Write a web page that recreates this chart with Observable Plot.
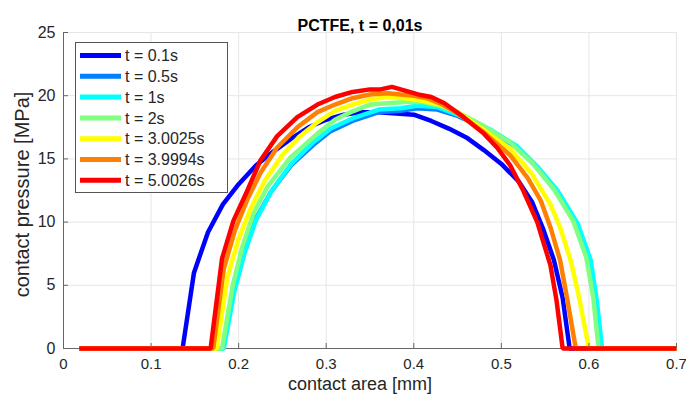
<!DOCTYPE html>
<html><head><meta charset="utf-8">
<script src="https://cdn.jsdelivr.net/npm/d3@7"></script>
<script src="https://cdn.jsdelivr.net/npm/@observablehq/plot@0.6"></script>
<style>
body{margin:0;background:#fff;}
#chart svg{display:block;}
</style></head><body><div id="chart"></div>
<script>
const titleText = "PCTFE, t = 0,01s";
const xLabel = "contact area [mm]";
const yLabel = "contact pressure [MPa]";
const seriesLabels = ["t = 0.1s","t = 0.5s","t = 1s","t = 2s","t = 3.0025s","t = 3.9994s","t = 5.0026s"];
const seriesColors = ["#0000ff","#0080ff","#00ffff","#80ff80","#ffff00","#ff8000","#ff0000"];
const xTicks = [0,0.1,0.2,0.3,0.4,0.5,0.6,0.7];
const yTicks = [0,5,10,15,20,25];

const x_t01 = [0.018,0.136,0.149,0.165,0.182,0.2,0.22,0.24,0.26,0.28,0.3,0.32,0.34,0.36,0.38,0.4,0.42,0.44,0.46,0.48,0.5,0.52,0.535,0.548,0.56,0.57,0.578,0.7];
const p_t01 = [0,0,6.0,9.2,11.4,13.0,14.5,15.6,16.6,17.5,18.1,18.5,18.7,18.7,18.6,18.5,18.0,17.4,16.7,15.7,14.6,13.2,11.6,9.4,7.0,4.0,0,0];
const x_t05 = [0.018,0.182,0.194,0.206,0.22,0.237,0.26,0.285,0.305,0.33,0.36,0.385,0.404,0.427,0.45,0.488,0.518,0.541,0.564,0.587,0.6,0.607,0.613,0.7];
const p_t05 = [0,0,4.6,7.7,10.3,12.4,14.5,16.1,17.2,18.0,18.7,18.8,19.0,18.9,18.4,17.2,15.9,14.3,12.3,9.6,7.0,3.8,0,0];
const x_t1 = [0.018,0.183,0.195,0.207,0.22,0.237,0.26,0.285,0.305,0.33,0.36,0.385,0.404,0.427,0.45,0.488,0.518,0.541,0.564,0.587,0.602,0.609,0.615,0.7];
const p_t1 = [0,0,4.5,7.6,10.2,12.4,14.6,16.3,17.4,18.2,18.9,19.0,19.2,19.1,18.5,17.3,16.0,14.4,12.5,9.9,7.0,3.8,0,0];
const x_t2 = [0.018,0.181,0.193,0.204,0.217,0.233,0.259,0.29,0.31,0.328,0.35,0.37,0.39,0.41,0.43,0.45,0.48,0.51,0.535,0.56,0.582,0.597,0.605,0.611,0.7];
const p_t2 = [0,0,4.9,8.0,10.7,12.8,15.1,17.0,18.1,18.7,19.3,19.4,19.5,19.5,19.2,18.7,17.6,16.3,14.7,12.6,10.1,7.2,4.0,0,0];
const x_t3 = [0.018,0.175,0.187,0.2,0.214,0.23,0.25,0.27,0.29,0.31,0.33,0.35,0.37,0.39,0.41,0.43,0.45,0.48,0.51,0.535,0.556,0.567,0.579,0.588,0.6,0.7];
const p_t3 = [0,0,5.6,8.7,11.1,13.3,15.3,16.8,17.9,18.8,19.3,19.7,19.9,19.8,19.6,19.3,18.7,17.3,15.8,13.8,11.4,9.6,7.0,4.3,0,0];
const x_t4 = [0.018,0.171,0.183,0.196,0.21,0.225,0.244,0.267,0.29,0.31,0.33,0.35,0.37,0.385,0.4,0.415,0.43,0.45,0.48,0.51,0.53,0.545,0.556,0.567,0.575,0.585,0.7];
const p_t4 = [0,0,6.3,9.4,11.8,13.9,15.9,17.5,18.7,19.3,19.8,20.1,20.2,20.1,20.0,19.8,19.4,18.6,17.1,15.3,13.5,11.7,9.6,7.0,4.0,0,0];
const x_t5 = [0.018,0.168,0.181,0.194,0.21,0.225,0.244,0.267,0.29,0.31,0.33,0.35,0.362,0.375,0.39,0.405,0.42,0.435,0.457,0.48,0.495,0.51,0.525,0.541,0.556,0.563,0.57,0.7];
const p_t5 = [0,0,7.1,10.1,12.5,14.9,16.8,18.3,19.3,19.9,20.3,20.5,20.5,20.7,20.4,20.1,19.9,19.4,18.3,17.0,15.9,14.5,12.5,10.0,6.6,3.8,0,0];

const seriesX = [x_t01,x_t05,x_t1,x_t2,x_t3,x_t4,x_t5];
const seriesP = [p_t01,p_t05,p_t1,p_t2,p_t3,p_t4,p_t5];

const rows = [];
seriesX.forEach((xs,i)=>xs.forEach((x,j)=>rows.push({series:seriesLabels[i], x, p:seriesP[i][j]})));

const font = "'Liberation Sans', Arial, Helvetica, sans-serif";
const ink = "#262626";
const chart = Plot.plot({
  width:686, height:396,
  marginLeft:63, marginRight:10, marginTop:32, marginBottom:48,
  style:{fontFamily:font, background:"#fff", overflow:"visible"},
  x:{domain:[0,0.7]},
  y:{domain:[0,25]},
  color:{domain:seriesLabels, range:seriesColors},
  marks:[
    Plot.gridX(xTicks,{stroke:"#e6e6e6", strokeOpacity:1}),
    Plot.gridY(yTicks,{stroke:"#e6e6e6", strokeOpacity:1}),
    Plot.ruleX([0],{stroke:"#666"}),
    Plot.ruleY([0],{stroke:"#666"}),
    ...seriesLabels.map(s=>Plot.line(rows.filter(r=>r.series===s),{x:"x",y:"p",stroke:"series",strokeWidth:4.5,strokeLinejoin:"miter",strokeLinecap:"butt"})),
    Plot.axisX(xTicks,{tickSize:-5,tickPadding:15,tickFormat:d=>String(d),fontSize:15,color:ink,stroke:"#666",label:null}),
    Plot.axisY(yTicks,{tickSize:-5,tickPadding:13,tickFormat:d=>String(d),fontSize:16,color:ink,stroke:"#666",label:null}),
    Plot.text([xLabel],{text:d=>d,frameAnchor:"bottom",textAnchor:"middle",dx:-10,dy:41,fontSize:18,fill:ink}),
    Plot.text([yLabel],{text:d=>d,frameAnchor:"left",textAnchor:"middle",dx:-41,dy:4,rotate:-90,fontSize:20,fill:ink}),
    Plot.text([titleText],{text:d=>d,frameAnchor:"top",textAnchor:"middle",dx:-10,dy:-13,fontSize:16,fontWeight:"bold",fill:"#000"})
  ]
});
document.getElementById("chart").appendChild(chart);

// legend box (upper-left, MATLAB style)
const lg = d3.select(chart).append("g").attr("font-family",font).attr("text-anchor","start");
lg.append("rect").attr("x",75.5).attr("y",42.5).attr("width",152).attr("height",150)
  .attr("fill","#fff").attr("stroke","#555").attr("stroke-width",1);
seriesLabels.forEach((s,i)=>{
  const cy = 55.5 + i*20.8;
  lg.append("line").attr("x1",80).attr("x2",121).attr("y1",cy).attr("y2",cy)
    .attr("stroke",seriesColors[i]).attr("stroke-width",5);
  lg.append("text").attr("x",125).attr("y",cy).attr("dy","0.35em").attr("text-anchor","start")
    .attr("font-size",16).attr("fill",ink).text(s);
});
</script></body></html>
